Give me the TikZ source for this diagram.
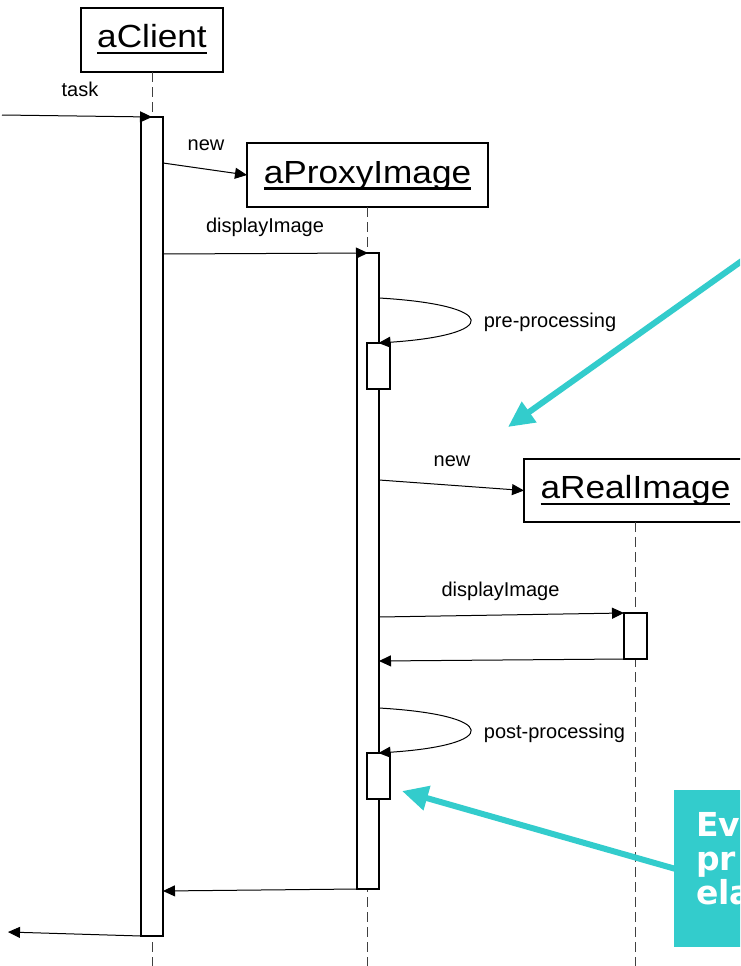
\documentclass[tikz,border=0pt]{standalone}
\usepackage{fontspec}
\setmainfont{Liberation Sans}
\newfontfamily\namefont[FakeStretch=1.1]{Liberation Sans}
\newfontfamily\notefont{DejaVu Sans}
\usetikzlibrary{arrows.meta,calc}
\definecolor{tealhint}{RGB}{51,204,204}
\newcommand\ulname[1]{\setbox0\hbox{#1}\rlap{\rule[-6.5pt]{\wd0}{2.3pt}}\box0}
\begin{document}
\begin{tikzpicture}[x=1pt,y=-1pt,
  obj/.style={draw, line width=1.2pt, minimum height=64pt, inner sep=0pt, outer sep=0pt,
    font=\namefont\fontsize{32}{38}\selectfont, text height=23pt, text depth=7pt},
  act/.style={draw, fill=white, line width=1.2pt, minimum width=22pt, inner sep=0pt, outer sep=0pt},
  life/.style={dash pattern=on 10pt off 5pt, line width=1pt, draw=black!75},
  msg/.style={line width=1pt, -{Triangle[length=12pt,width=11pt]}},
  lbl/.style={anchor=base, font=\fontsize{20}{24}\selectfont, inner sep=0pt},
  hint/.style={draw=tealhint, line width=6pt, -{Triangle[length=26pt,width=24pt]}},
  notetxt/.style={anchor=base west, inner sep=0pt, text=white, font=\notefont\bfseries\fontsize{33}{36}\selectfont}
]
\useasboundingbox (0,0) rectangle (740,966);
\clip (0,0) rectangle (740,966);
\fill[white] (0,0) rectangle (740,966);

% objects
\node[obj, minimum width=142pt] (client) at (152,40) {\ulname{aClient}};
\node[obj, minimum width=241pt] (proxy) at (367.5,175) {\ulname{aProxyImage}};
\node[obj, minimum width=223pt, minimum height=63pt] (real) at (635.5,490.5) {\ulname{aRealImage}};

% lifelines
\coordinate (bottom) at (0,972);
\draw[life] (client.south) -- (client.south |- bottom);
\draw[life] (proxy.south) -- (proxy.south |- bottom);
\draw[life] (real.south) -- (real.south |- bottom);

% activations
\node[act, minimum height=819pt] (ca) at (152,526.5) {};
\node[act, minimum height=636pt] (pa) at (368,571) {};
\node[act, minimum width=23pt, minimum height=46pt] (pre) at (378.5,366) {};
\node[act, minimum width=23pt, minimum height=46pt] (post) at (378.5,776) {};
\node[act, minimum width=23pt, minimum height=46pt] (ra) at (635.5,636) {};

% messages
\coordinate (in) at (2,115);
\coordinate (out) at (8,932);
\draw[msg] (in) -- (ca.north);
\node[lbl] (ltask) at (80,96) {task};

\draw[msg] ([yshift=-46pt]ca.north east) -- (proxy.west);
\node[lbl] (lnew1) at (206,150) {new};

\draw[msg] ([yshift=-137pt]ca.north east) -- (pa.north);
\node[lbl] (ldisp1) at (265,232) {displayImage};

\draw[msg] ([yshift=-45pt]pa.north east) .. controls +(121,7) and +(121.5,-8) .. (pre.north);
\node[lbl] (lpre) at (550,327) {pre-processing};

\draw[msg] ([yshift=-227pt]pa.north east) -- (real.west);
\node[lbl] (lnew2) at (452,466) {new};

\draw[msg] ([yshift=-364pt]pa.north east) -- (ra.north west);
\node[lbl] (ldisp2) at (500.5,596) {displayImage};

\draw[msg] (ra.south west) -- ([yshift=-408pt]pa.north east);

\draw[msg] ([yshift=-455pt]pa.north east) .. controls +(121,7) and +(121.5,-8) .. (post.north);
\node[lbl] (lpost) at (554.5,738) {post-processing};

\draw[msg] (pa.south west) -- ([yshift=-774pt]ca.north east);
\draw[msg] (ca.south west) -- (out);

% hints
\coordinate (h1s) at (760,248);
\coordinate (h1e) at (508,427);
\draw[hint] (h1s) -- (h1e);

\node[fill=tealhint, minimum width=100pt, minimum height=157pt, anchor=north west, inner sep=0pt, outer sep=0pt] (note) at (674,790) {};
\coordinate (h2e) at (402,791);
\draw[hint, shorten <=-4pt] (note.west) -- (h2e);
\node[notetxt] (n1) at (696,836) {Ev};
\node[notetxt] (n2) at (696,870) {pr};
\node[notetxt] (n3) at (696,904) {ela};
\end{tikzpicture}
\end{document}
